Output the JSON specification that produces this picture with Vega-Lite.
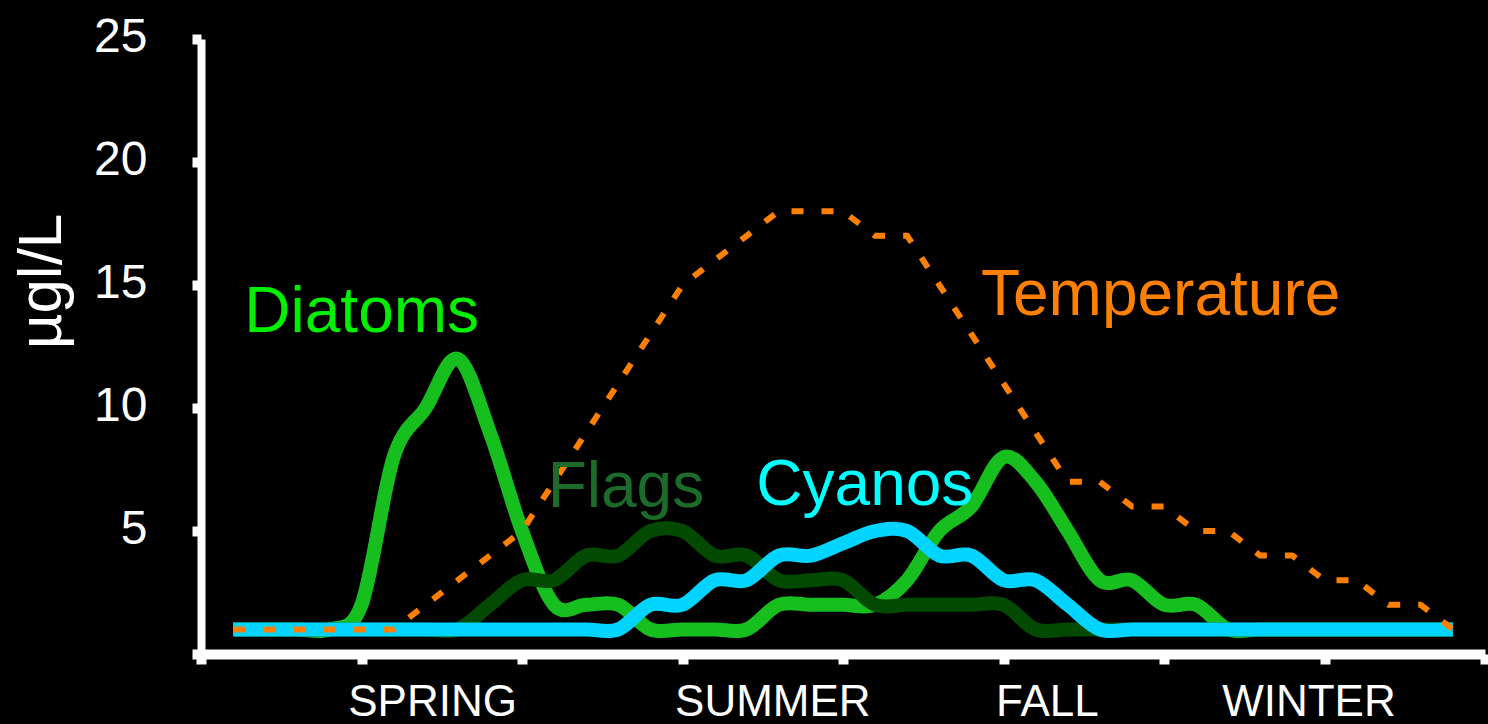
{
  "$schema": "https://vega.github.io/schema/vega-lite/v6.json",
  "width": 1284,
  "height": 615,
  "autosize": {"type": "none"},
  "padding": {"left": 201, "top": 39, "right": 3, "bottom": 70},
  "background": "#000000",
  "config": {"view": {"stroke": null}, "font": "Liberation Sans"},
  "datasets": {
    "series": [
      {"s":"Diatoms","x":0.2,"y":1},{"s":"Diatoms","x":0.4,"y":1},{"s":"Diatoms","x":0.6,"y":1},{"s":"Diatoms","x":0.8,"y":1},{"s":"Diatoms","x":1.0,"y":2},{"s":"Diatoms","x":1.2,"y":8},{"s":"Diatoms","x":1.4,"y":10},{"s":"Diatoms","x":1.6,"y":12},{"s":"Diatoms","x":1.8,"y":9},{"s":"Diatoms","x":2.0,"y":5},{"s":"Diatoms","x":2.2,"y":2},{"s":"Diatoms","x":2.4,"y":2},{"s":"Diatoms","x":2.6,"y":2},{"s":"Diatoms","x":2.8,"y":1},{"s":"Diatoms","x":3.0,"y":1},{"s":"Diatoms","x":3.2,"y":1},{"s":"Diatoms","x":3.4,"y":1},{"s":"Diatoms","x":3.6,"y":2},{"s":"Diatoms","x":3.8,"y":2},{"s":"Diatoms","x":4.0,"y":2},{"s":"Diatoms","x":4.2,"y":2},{"s":"Diatoms","x":4.4,"y":3},{"s":"Diatoms","x":4.6,"y":5},{"s":"Diatoms","x":4.8,"y":6},{"s":"Diatoms","x":5.0,"y":8},{"s":"Diatoms","x":5.2,"y":7},{"s":"Diatoms","x":5.4,"y":5},{"s":"Diatoms","x":5.6,"y":3},{"s":"Diatoms","x":5.8,"y":3},{"s":"Diatoms","x":6.0,"y":2},{"s":"Diatoms","x":6.2,"y":2},{"s":"Diatoms","x":6.4,"y":1},{"s":"Diatoms","x":6.6,"y":1},{"s":"Diatoms","x":6.8,"y":1},{"s":"Diatoms","x":7.0,"y":1},{"s":"Diatoms","x":7.2,"y":1},{"s":"Diatoms","x":7.4,"y":1},{"s":"Diatoms","x":7.6,"y":1},{"s":"Diatoms","x":7.8,"y":1},
      {"s":"Flags","x":0.2,"y":1},{"s":"Flags","x":0.4,"y":1},{"s":"Flags","x":0.6,"y":1},{"s":"Flags","x":0.8,"y":1},{"s":"Flags","x":1.0,"y":1},{"s":"Flags","x":1.2,"y":1},{"s":"Flags","x":1.4,"y":1},{"s":"Flags","x":1.6,"y":1},{"s":"Flags","x":1.8,"y":2},{"s":"Flags","x":2.0,"y":3},{"s":"Flags","x":2.2,"y":3},{"s":"Flags","x":2.4,"y":4},{"s":"Flags","x":2.6,"y":4},{"s":"Flags","x":2.8,"y":5},{"s":"Flags","x":3.0,"y":5},{"s":"Flags","x":3.2,"y":4},{"s":"Flags","x":3.4,"y":4},{"s":"Flags","x":3.6,"y":3},{"s":"Flags","x":3.8,"y":3},{"s":"Flags","x":4.0,"y":3},{"s":"Flags","x":4.2,"y":2},{"s":"Flags","x":4.4,"y":2},{"s":"Flags","x":4.6,"y":2},{"s":"Flags","x":4.8,"y":2},{"s":"Flags","x":5.0,"y":2},{"s":"Flags","x":5.2,"y":1},{"s":"Flags","x":5.4,"y":1},{"s":"Flags","x":5.6,"y":1},{"s":"Flags","x":5.8,"y":1},{"s":"Flags","x":6.0,"y":1},{"s":"Flags","x":6.2,"y":1},{"s":"Flags","x":6.4,"y":1},{"s":"Flags","x":6.6,"y":1},{"s":"Flags","x":6.8,"y":1},{"s":"Flags","x":7.0,"y":1},{"s":"Flags","x":7.2,"y":1},{"s":"Flags","x":7.4,"y":1},{"s":"Flags","x":7.6,"y":1},{"s":"Flags","x":7.8,"y":1},
      {"s":"Cyanos","x":0.2,"y":1},{"s":"Cyanos","x":0.4,"y":1},{"s":"Cyanos","x":0.6,"y":1},{"s":"Cyanos","x":0.8,"y":1},{"s":"Cyanos","x":1.0,"y":1},{"s":"Cyanos","x":1.2,"y":1},{"s":"Cyanos","x":1.4,"y":1},{"s":"Cyanos","x":1.6,"y":1},{"s":"Cyanos","x":1.8,"y":1},{"s":"Cyanos","x":2.0,"y":1},{"s":"Cyanos","x":2.2,"y":1},{"s":"Cyanos","x":2.4,"y":1},{"s":"Cyanos","x":2.6,"y":1},{"s":"Cyanos","x":2.8,"y":2},{"s":"Cyanos","x":3.0,"y":2},{"s":"Cyanos","x":3.2,"y":3},{"s":"Cyanos","x":3.4,"y":3},{"s":"Cyanos","x":3.6,"y":4},{"s":"Cyanos","x":3.8,"y":4},{"s":"Cyanos","x":4.0,"y":4.5},{"s":"Cyanos","x":4.2,"y":5},{"s":"Cyanos","x":4.4,"y":5},{"s":"Cyanos","x":4.6,"y":4},{"s":"Cyanos","x":4.8,"y":4},{"s":"Cyanos","x":5.0,"y":3},{"s":"Cyanos","x":5.2,"y":3},{"s":"Cyanos","x":5.4,"y":2},{"s":"Cyanos","x":5.6,"y":1},{"s":"Cyanos","x":5.8,"y":1},{"s":"Cyanos","x":6.0,"y":1},{"s":"Cyanos","x":6.2,"y":1},{"s":"Cyanos","x":6.4,"y":1},{"s":"Cyanos","x":6.6,"y":1},{"s":"Cyanos","x":6.8,"y":1},{"s":"Cyanos","x":7.0,"y":1},{"s":"Cyanos","x":7.2,"y":1},{"s":"Cyanos","x":7.4,"y":1},{"s":"Cyanos","x":7.6,"y":1},{"s":"Cyanos","x":7.8,"y":1},
      {"s":"Temperature","x":0.2,"y":1},{"s":"Temperature","x":0.4,"y":1},{"s":"Temperature","x":0.6,"y":1},{"s":"Temperature","x":0.8,"y":1},{"s":"Temperature","x":1.0,"y":1},{"s":"Temperature","x":1.2,"y":1},{"s":"Temperature","x":1.4,"y":2},{"s":"Temperature","x":1.6,"y":3},{"s":"Temperature","x":1.8,"y":4},{"s":"Temperature","x":2.0,"y":5},{"s":"Temperature","x":2.2,"y":7},{"s":"Temperature","x":2.4,"y":9},{"s":"Temperature","x":2.6,"y":11},{"s":"Temperature","x":2.8,"y":13},{"s":"Temperature","x":3.0,"y":15},{"s":"Temperature","x":3.2,"y":16},{"s":"Temperature","x":3.4,"y":17},{"s":"Temperature","x":3.6,"y":18},{"s":"Temperature","x":3.8,"y":18},{"s":"Temperature","x":4.0,"y":18},{"s":"Temperature","x":4.2,"y":17},{"s":"Temperature","x":4.4,"y":17},{"s":"Temperature","x":4.6,"y":15},{"s":"Temperature","x":4.8,"y":13},{"s":"Temperature","x":5.0,"y":11},{"s":"Temperature","x":5.2,"y":9},{"s":"Temperature","x":5.4,"y":7},{"s":"Temperature","x":5.6,"y":7},{"s":"Temperature","x":5.8,"y":6},{"s":"Temperature","x":6.0,"y":6},{"s":"Temperature","x":6.2,"y":5},{"s":"Temperature","x":6.4,"y":5},{"s":"Temperature","x":6.6,"y":4},{"s":"Temperature","x":6.8,"y":4},{"s":"Temperature","x":7.0,"y":3},{"s":"Temperature","x":7.2,"y":3},{"s":"Temperature","x":7.4,"y":2},{"s":"Temperature","x":7.6,"y":2},{"s":"Temperature","x":7.8,"y":1}
    ],
    "labels": [
      {"label":"Diatoms","x":0.27,"y":13.09},
      {"label":"Temperature","x":4.86,"y":13.78},
      {"label":"Flags","x":2.16,"y":5.98},
      {"label":"Cyanos","x":3.46,"y":6.06}
    ]
  },
  "encoding": {
    "x": {
      "field": "x", "type": "quantitative",
      "scale": {"domain": [0, 8], "nice": false, "zero": false},
      "axis": {
        "values": [0, 1, 2, 3, 4, 5, 6, 7, 8, 1.44, 3.56, 5.27, 6.9],
        "labelExpr": "datum.value == 1.44 ? 'SPRING' : datum.value == 3.56 ? 'SUMMER' : datum.value == 5.27 ? 'FALL' : datum.value == 6.9 ? 'WINTER' : ''",
        "title": null, "grid": false,
        "domainColor": "#ffffff", "domainWidth": 10,
        "tickColor": "#ffffff", "tickWidth": 10, "tickSize": 10,
        "tickOpacity": {"condition": {"test": "datum.value % 1 === 0", "value": 1}, "value": 0},
        "labelColor": "#ffffff", "labelFontSize": 44, "labelFont": "Liberation Sans",
        "labelPadding": 51, "labelOverlap": false, "labelFlush": false, "labelLimit": 0,
        "labelBaseline": "alphabetic", "labelAlign": "center"
      }
    },
    "y": {
      "field": "y", "type": "quantitative",
      "scale": {"domain": [0, 25], "nice": false, "zero": true},
      "axis": {
        "values": [0, 5, 10, 15, 20, 25],
        "labelExpr": "datum.value == 0 ? '' : datum.label",
        "title": "µgl/L", "titleColor": "#ffffff", "titleFontSize": 62,
        "titleFontWeight": "normal", "titleFont": "Liberation Sans",
        "titleAngle": -90, "titleX": -141, "titleY": 242,
        "titleAlign": "center", "titleBaseline": "alphabetic",
        "grid": false,
        "domainColor": "#ffffff", "domainWidth": 8,
        "tickColor": "#ffffff", "tickWidth": 10, "tickSize": 9,
        "labelColor": "#ffffff", "labelFontSize": 48, "labelFont": "Liberation Sans",
        "labelPadding": 45, "labelOffset": -2, "labelLimit": 0
      }
    }
  },
  "layer": [
    {
      "data": {"name": "series"},
      "transform": [{"filter": "datum.s == 'Diatoms'"}],
      "mark": {"type": "line", "color": "#16BE1E", "strokeWidth": 14, "interpolate": "cardinal", "strokeCap": "butt"}
    },
    {
      "data": {"name": "series"},
      "transform": [{"filter": "datum.s == 'Flags'"}],
      "mark": {"type": "line", "color": "#024A02", "strokeWidth": 14, "interpolate": "cardinal", "strokeCap": "butt"}
    },
    {
      "data": {"name": "series"},
      "transform": [{"filter": "datum.s == 'Cyanos'"}],
      "mark": {"type": "line", "color": "#00D4FF", "strokeWidth": 14, "interpolate": "cardinal", "strokeCap": "butt"}
    },
    {
      "data": {"name": "series"},
      "transform": [{"filter": "datum.s == 'Temperature'"}],
      "mark": {"type": "line", "color": "#FF8000", "strokeWidth": 6, "interpolate": "linear", "strokeDash": [12, 18], "strokeJoin": "round", "strokeCap": "butt"}
    },
    {
      "data": {"name": "labels"},
      "mark": {"type": "text", "align": "left", "baseline": "alphabetic", "fontSize": 64, "font": "Liberation Sans"},
      "encoding": {
        "text": {"field": "label"},
        "color": {
          "field": "label", "type": "nominal", "legend": null,
          "scale": {"domain": ["Diatoms", "Flags", "Cyanos", "Temperature"], "range": ["#00F000", "#1B6B2B", "#00FFFF", "#FF8000"]}
        }
      }
    }
  ]
}
